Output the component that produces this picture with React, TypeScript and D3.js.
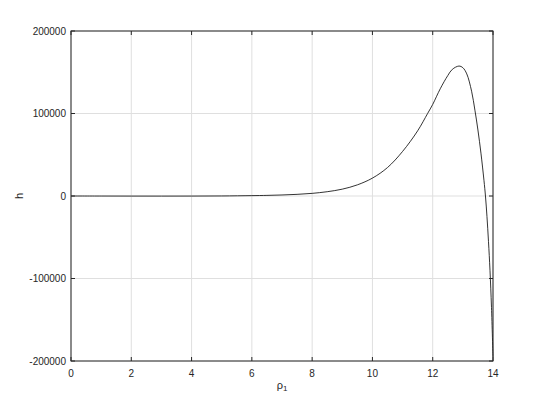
import React, { useEffect, useRef } from "react";
import * as d3 from "d3";

// rho_1 values
const rho = [
  0, 1, 2, 3, 4, 5, 6, 6.5, 7, 7.5, 8, 8.5, 9, 9.5, 10, 10.5, 11, 11.5, 11.83,
  12, 12.25, 12.5, 12.65, 12.87, 13, 13.13, 13.29, 13.4, 13.5, 13.6, 13.7,
  13.75, 13.8, 13.85, 13.9, 13.95, 14,
];
// h values for each rho_1
const hVals = [
  0, -50, -100, -120, -80, 50, 450, 750, 1250, 2000, 3200, 5200, 8300, 13500,
  21700, 34500, 54000, 79000, 100000, 111000, 130000, 146000, 153500, 157500,
  155500, 148000, 127000, 104000, 80000, 52000, 19000, 0, -25000, -55000,
  -90000, -135000, -195000,
];

const xTicks = [0, 2, 4, 6, 8, 10, 12, 14];
const yTicks = [-200000, -100000, 0, 100000, 200000];

const W = 545;
const H = 407;
const margin = { top: 31, right: 52, bottom: 46, left: 71 };
const axisColor = "#262626";
const gridColor = "#dfdfdf";
const font = "'Liberation Sans', Arial, sans-serif";

export default function App() {
  const ref = useRef<SVGSVGElement>(null);

  useEffect(() => {
    const svg = d3.select(ref.current);
    svg.selectAll("*").remove();

    const x = d3
      .scaleLinear()
      .domain([0, 14])
      .range([margin.left, W - margin.right]);
    const y = d3
      .scaleLinear()
      .domain([-200000, 200000])
      .range([H - margin.bottom, margin.top]);

    const [x0, x1] = x.range();
    const [y0, y1] = y.range();

    // grid
    const grid = svg.append("g");
    grid
      .selectAll("line.gx")
      .data(xTicks)
      .enter()
      .append("line")
      .attr("x1", (d) => x(d))
      .attr("x2", (d) => x(d))
      .attr("y1", y0)
      .attr("y2", y1)
      .attr("stroke", gridColor)
      .attr("stroke-width", 1);
    grid
      .selectAll("line.gy")
      .data(yTicks)
      .enter()
      .append("line")
      .attr("x1", x0)
      .attr("x2", x1)
      .attr("y1", (d) => y(d))
      .attr("y2", (d) => y(d))
      .attr("stroke", gridColor)
      .attr("stroke-width", 1);

    // curve
    const data = rho.map((r, i) => [r, hVals[i]] as [number, number]);
    const line = d3
      .line<[number, number]>()
      .x((d) => x(d[0]))
      .y((d) => y(d[1]))
      .curve(d3.curveCatmullRom.alpha(0.5));
    svg
      .append("path")
      .datum(data)
      .attr("d", line)
      .attr("fill", "none")
      .attr("stroke", "#000")
      .attr("stroke-width", 0.8);

    // box
    svg
      .append("rect")
      .attr("x", x0)
      .attr("y", y1)
      .attr("width", x1 - x0)
      .attr("height", y0 - y1)
      .attr("fill", "none")
      .attr("stroke", axisColor)
      .attr("stroke-width", 1);

    // inner ticks on all four sides
    const tl = 4;
    const ticks = svg.append("g").attr("stroke", axisColor);
    xTicks.forEach((t) => {
      ticks.append("line").attr("x1", x(t)).attr("x2", x(t)).attr("y1", y0).attr("y2", y0 - tl);
      ticks.append("line").attr("x1", x(t)).attr("x2", x(t)).attr("y1", y1).attr("y2", y1 + tl);
    });
    yTicks.forEach((t) => {
      ticks.append("line").attr("x1", x0).attr("x2", x0 + tl).attr("y1", y(t)).attr("y2", y(t));
      ticks.append("line").attr("x1", x1).attr("x2", x1 - tl).attr("y1", y(t)).attr("y2", y(t));
    });

    // tick labels
    svg
      .selectAll("text.xt")
      .data(xTicks)
      .enter()
      .append("text")
      .attr("x", (d) => x(d))
      .attr("y", y0 + 16)
      .attr("text-anchor", "middle")
      .attr("font-family", font)
      .attr("font-size", 10)
      .attr("fill", axisColor)
      .text((d) => d);
    svg
      .selectAll("text.yt")
      .data(yTicks)
      .enter()
      .append("text")
      .attr("x", x0 - 5)
      .attr("y", (d) => y(d) + 3.5)
      .attr("text-anchor", "end")
      .attr("font-family", font)
      .attr("font-size", 10)
      .attr("fill", axisColor)
      .text((d) => d);

    // axis labels
    const xl = svg
      .append("text")
      .attr("x", (x0 + x1) / 2)
      .attr("y", y0 + 28)
      .attr("text-anchor", "middle")
      .attr("font-family", font)
      .attr("font-size", 11)
      .attr("fill", axisColor);
    xl.append("tspan").text("ρ");
    xl.append("tspan").attr("font-size", 8).attr("dy", 2).text("1");

    svg
      .append("text")
      .attr("transform", `translate(23,${y(0)}) rotate(-90)`)
      .attr("text-anchor", "middle")
      .attr("font-family", font)
      .attr("font-size", 11)
      .attr("fill", axisColor)
      .text("h");
  }, []);

  return (
    <div style={{ position: "absolute", left: 0, top: 0 }}>
      <svg ref={ref} width={W} height={H} style={{ display: "block", background: "#fff" }} />
    </div>
  );
}
